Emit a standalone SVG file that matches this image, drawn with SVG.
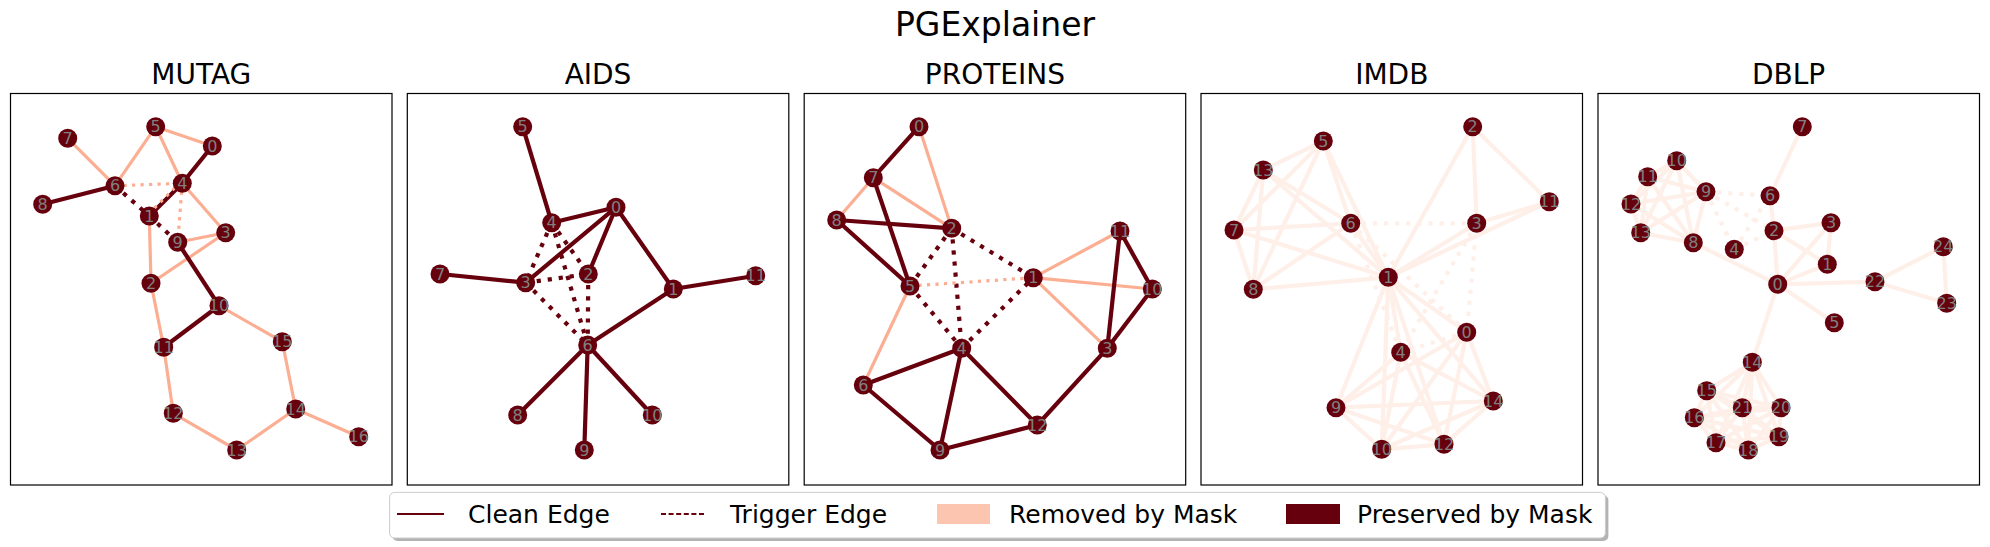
<svg xmlns="http://www.w3.org/2000/svg" width="1990" height="547" viewBox="0 0 1990 547">
<style>
text{font-family:"DejaVu Sans","Liberation Sans",sans-serif}
.ttl{font-size:33px;text-anchor:middle;fill:#000}
.sub{font-size:28px;text-anchor:middle;fill:#000}
.frame{fill:none;stroke:#000;stroke-width:1.2}
.nd circle{fill:#67000d}
.nd text{font-size:16px;fill:#808080;text-anchor:middle;dominant-baseline:central}
line{stroke-linecap:butt}
.k{stroke:#67000d;stroke-width:4.2}
.kd{stroke:#67000d;stroke-width:4.2;stroke-dasharray:4.2 6.9}
.l{stroke:#fcae93;stroke-width:3.2}
.ld{stroke:#fcae93;stroke-width:3.2;stroke-dasharray:3.2 5.3}
.f{stroke:#fef0e9;stroke-width:4.2}
.fd{stroke:#fef0e9;stroke-width:4.2;stroke-dasharray:4.2 6.9}
.lg{font-size:25px;fill:#000}
</style>
<rect width="1990" height="547" fill="#fff"/>
<text class="ttl" x="995" y="36">PGExplainer</text>
<g id="frames">
<text class="sub" x="201.3" y="84">MUTAG</text>
<text class="sub" x="598" y="84">AIDS</text>
<text class="sub" x="994.9" y="84">PROTEINS</text>
<text class="sub" x="1391.8" y="84">IMDB</text>
<text class="sub" x="1788.6" y="84">DBLP</text>
<rect class="frame" x="10.5" y="93.5" width="381.5" height="391.5"/>
<rect class="frame" x="407.3" y="93.5" width="381.5" height="391.5"/>
<rect class="frame" x="804.2" y="93.5" width="381.5" height="391.5"/>
<rect class="frame" x="1201" y="93.5" width="381.5" height="391.5"/>
<rect class="frame" x="1598" y="93.5" width="381.5" height="391.5"/>
</g>
<g id="connectors">
<!-- MUTAG -->
<line class="l" x1="155.7" y1="126.7" x2="212.3" y2="146"/>
<line class="l" x1="155.7" y1="126.7" x2="115" y2="185.7"/>
<line class="l" x1="155.7" y1="126.7" x2="182.3" y2="183.3"/>
<line class="l" x1="67.7" y1="138.3" x2="115" y2="185.7"/>
<line class="l" x1="182.3" y1="183.3" x2="225.7" y2="232.7"/>
<line class="l" x1="177.7" y1="242.3" x2="225.7" y2="232.7"/>
<line class="l" x1="225.7" y1="232.7" x2="151" y2="283.3"/>
<line class="l" x1="149.3" y1="216" x2="151" y2="283.3"/>
<line class="l" x1="219" y1="305.7" x2="282.3" y2="341.7"/>
<line class="l" x1="151" y1="283.3" x2="163.7" y2="347.3"/>
<line class="l" x1="163.7" y1="347.3" x2="173.3" y2="413.3"/>
<line class="l" x1="173.3" y1="413.3" x2="236.7" y2="450"/>
<line class="l" x1="236.7" y1="450" x2="295.7" y2="409"/>
<line class="l" x1="295.7" y1="409" x2="282.3" y2="341.7"/>
<line class="l" x1="295.7" y1="409" x2="358.7" y2="436.7"/>
<line class="ld" x1="115" y1="185.7" x2="182.3" y2="183.3"/>
<line class="ld" x1="182.3" y1="183.3" x2="177.7" y2="242.3"/>
<line class="k" x1="212.3" y1="146" x2="182.3" y2="183.3"/>
<line class="k" x1="42.7" y1="204.3" x2="115" y2="185.7"/>
<line class="k" x1="177.7" y1="242.3" x2="219" y2="305.7"/>
<line class="k" x1="219" y1="305.7" x2="163.7" y2="347.3"/>
<line class="k" x1="149.3" y1="216" x2="182.3" y2="183.3"/>
<line class="ld" x1="148.3" y1="214" x2="181.3" y2="181.3"/>
<line class="kd" x1="115" y1="185.7" x2="149.3" y2="216"/>
<line class="kd" x1="149.3" y1="216" x2="177.7" y2="242.3"/>
<!-- AIDS -->
<line class="k" x1="522.7" y1="126.7" x2="551.7" y2="222.7"/>
<line class="k" x1="551.7" y1="222.7" x2="616" y2="207.3"/>
<line class="k" x1="616" y1="207.3" x2="525.7" y2="282.7"/>
<line class="k" x1="616" y1="207.3" x2="588.3" y2="274"/>
<line class="k" x1="616" y1="207.3" x2="673.3" y2="289"/>
<line class="k" x1="673.3" y1="289" x2="755.7" y2="275.7"/>
<line class="k" x1="673.3" y1="289" x2="587.7" y2="345"/>
<line class="k" x1="440" y1="274" x2="525.7" y2="282.7"/>
<line class="k" x1="587.7" y1="345" x2="517.7" y2="415"/>
<line class="k" x1="587.7" y1="345" x2="584.3" y2="450"/>
<line class="k" x1="587.7" y1="345" x2="652.3" y2="415"/>
<line class="kd" x1="551.7" y1="222.7" x2="525.7" y2="282.7"/>
<line class="kd" x1="551.7" y1="222.7" x2="588.3" y2="274"/>
<line class="kd" x1="551.7" y1="222.7" x2="587.7" y2="345"/>
<line class="kd" x1="525.7" y1="282.7" x2="588.3" y2="274"/>
<line class="kd" x1="525.7" y1="282.7" x2="587.7" y2="345"/>
<line class="kd" x1="588.3" y1="274" x2="587.7" y2="345"/>
<!-- PROTEINS -->
<line class="l" x1="919" y1="126.7" x2="951.7" y2="228.3"/>
<line class="l" x1="873.3" y1="177.7" x2="951.7" y2="228.3"/>
<line class="l" x1="873.3" y1="177.7" x2="836.7" y2="220"/>
<line class="l" x1="910" y1="286" x2="863.3" y2="385"/>
<line class="l" x1="1033.3" y1="277.7" x2="1120" y2="231"/>
<line class="l" x1="1033.3" y1="277.7" x2="1152.3" y2="289"/>
<line class="l" x1="1033.3" y1="277.7" x2="1107.3" y2="348.3"/>
<line class="k" x1="919" y1="126.7" x2="873.3" y2="177.7"/>
<line class="k" x1="873.3" y1="177.7" x2="910" y2="286"/>
<line class="k" x1="836.7" y1="220" x2="951.7" y2="228.3"/>
<line class="k" x1="836.7" y1="220" x2="910" y2="286"/>
<line class="k" x1="961.7" y1="348.3" x2="863.3" y2="385"/>
<line class="k" x1="961.7" y1="348.3" x2="940" y2="450"/>
<line class="k" x1="961.7" y1="348.3" x2="1037.3" y2="425"/>
<line class="k" x1="863.3" y1="385" x2="940" y2="450"/>
<line class="k" x1="940" y1="450" x2="1037.3" y2="425"/>
<line class="k" x1="1037.3" y1="425" x2="1107.3" y2="348.3"/>
<line class="k" x1="1107.3" y1="348.3" x2="1120" y2="231"/>
<line class="k" x1="1107.3" y1="348.3" x2="1152.3" y2="289"/>
<line class="k" x1="1120" y1="231" x2="1152.3" y2="289"/>
<line class="kd" x1="951.7" y1="228.3" x2="910" y2="286"/>
<line class="kd" x1="951.7" y1="228.3" x2="961.7" y2="348.3"/>
<line class="kd" x1="951.7" y1="228.3" x2="1033.3" y2="277.7"/>
<line class="kd" x1="910" y1="286" x2="961.7" y2="348.3"/>
<line class="kd" x1="961.7" y1="348.3" x2="1033.3" y2="277.7"/>
<line class="ld" x1="910" y1="286" x2="1033.3" y2="277.7"/>
<!-- IMDB -->
<line class="f" x1="1323.3" y1="141" x2="1263.3" y2="170"/>
<line class="f" x1="1323.3" y1="141" x2="1234" y2="230"/>
<line class="f" x1="1323.3" y1="141" x2="1253.3" y2="289.3"/>
<line class="f" x1="1323.3" y1="141" x2="1350.7" y2="223.3"/>
<line class="f" x1="1323.3" y1="141" x2="1388.3" y2="277.3"/>
<line class="f" x1="1263.3" y1="170" x2="1234" y2="230"/>
<line class="f" x1="1263.3" y1="170" x2="1253.3" y2="289.3"/>
<line class="f" x1="1263.3" y1="170" x2="1350.7" y2="223.3"/>
<line class="f" x1="1263.3" y1="170" x2="1388.3" y2="277.3"/>
<line class="f" x1="1234" y1="230" x2="1253.3" y2="289.3"/>
<line class="f" x1="1234" y1="230" x2="1350.7" y2="223.3"/>
<line class="f" x1="1234" y1="230" x2="1388.3" y2="277.3"/>
<line class="f" x1="1253.3" y1="289.3" x2="1350.7" y2="223.3"/>
<line class="f" x1="1253.3" y1="289.3" x2="1388.3" y2="277.3"/>
<line class="f" x1="1350.7" y1="223.3" x2="1388.3" y2="277.3"/>
<line class="f" x1="1472.7" y1="126.7" x2="1476.7" y2="223.3"/>
<line class="f" x1="1472.7" y1="126.7" x2="1549.3" y2="201.7"/>
<line class="f" x1="1472.7" y1="126.7" x2="1388.3" y2="277.3"/>
<line class="f" x1="1476.7" y1="223.3" x2="1549.3" y2="201.7"/>
<line class="f" x1="1476.7" y1="223.3" x2="1388.3" y2="277.3"/>
<line class="f" x1="1549.3" y1="201.7" x2="1388.3" y2="277.3"/>
<line class="f" x1="1388.3" y1="277.3" x2="1466.7" y2="332.3"/>
<line class="f" x1="1388.3" y1="277.3" x2="1400.7" y2="352.3"/>
<line class="f" x1="1388.3" y1="277.3" x2="1336" y2="407.7"/>
<line class="f" x1="1388.3" y1="277.3" x2="1381.7" y2="449.3"/>
<line class="f" x1="1388.3" y1="277.3" x2="1444" y2="444.3"/>
<line class="f" x1="1388.3" y1="277.3" x2="1493.3" y2="401"/>
<line class="f" x1="1466.7" y1="332.3" x2="1336" y2="407.7"/>
<line class="f" x1="1466.7" y1="332.3" x2="1381.7" y2="449.3"/>
<line class="f" x1="1466.7" y1="332.3" x2="1444" y2="444.3"/>
<line class="f" x1="1466.7" y1="332.3" x2="1493.3" y2="401"/>
<line class="f" x1="1400.7" y1="352.3" x2="1336" y2="407.7"/>
<line class="f" x1="1400.7" y1="352.3" x2="1381.7" y2="449.3"/>
<line class="f" x1="1400.7" y1="352.3" x2="1444" y2="444.3"/>
<line class="f" x1="1400.7" y1="352.3" x2="1493.3" y2="401"/>
<line class="f" x1="1336" y1="407.7" x2="1381.7" y2="449.3"/>
<line class="f" x1="1336" y1="407.7" x2="1444" y2="444.3"/>
<line class="f" x1="1336" y1="407.7" x2="1493.3" y2="401"/>
<line class="f" x1="1381.7" y1="449.3" x2="1444" y2="444.3"/>
<line class="f" x1="1381.7" y1="449.3" x2="1493.3" y2="401"/>
<line class="f" x1="1444" y1="444.3" x2="1493.3" y2="401"/>
<line class="fd" x1="1350.7" y1="223.3" x2="1476.7" y2="223.3"/>
<line class="fd" x1="1350.7" y1="223.3" x2="1466.7" y2="332.3"/>
<line class="fd" x1="1350.7" y1="223.3" x2="1400.7" y2="352.3"/>
<line class="fd" x1="1476.7" y1="223.3" x2="1466.7" y2="332.3"/>
<line class="fd" x1="1476.7" y1="223.3" x2="1400.7" y2="352.3"/>
<line class="fd" x1="1466.7" y1="332.3" x2="1400.7" y2="352.3"/>
<!-- DBLP -->
<line class="f" x1="1802.3" y1="126.7" x2="1770" y2="195.7"/>
<line class="f" x1="1770" y1="195.7" x2="1774" y2="230.7"/>
<line class="f" x1="1774" y1="230.7" x2="1831" y2="222.7"/>
<line class="f" x1="1774" y1="230.7" x2="1827.3" y2="264.3"/>
<line class="f" x1="1774" y1="230.7" x2="1777.7" y2="284.3"/>
<line class="f" x1="1831" y1="222.7" x2="1827.3" y2="264.3"/>
<line class="f" x1="1831" y1="222.7" x2="1777.7" y2="284.3"/>
<line class="f" x1="1827.3" y1="264.3" x2="1777.7" y2="284.3"/>
<line class="f" x1="1777.7" y1="284.3" x2="1834.3" y2="322.7"/>
<line class="f" x1="1777.7" y1="284.3" x2="1875" y2="281.7"/>
<line class="f" x1="1777.7" y1="284.3" x2="1752.3" y2="362.3"/>
<line class="f" x1="1777.7" y1="284.3" x2="1693.3" y2="242.7"/>
<line class="f" x1="1875" y1="281.7" x2="1943.3" y2="246.7"/>
<line class="f" x1="1875" y1="281.7" x2="1946.7" y2="303.3"/>
<line class="f" x1="1943.3" y1="246.7" x2="1946.7" y2="303.3"/>
<line class="f" x1="1693.3" y1="242.7" x2="1706" y2="191.7"/>
<line class="f" x1="1693.3" y1="242.7" x2="1676.7" y2="160.7"/>
<line class="f" x1="1693.3" y1="242.7" x2="1647.7" y2="176.7"/>
<line class="f" x1="1693.3" y1="242.7" x2="1631" y2="204"/>
<line class="f" x1="1693.3" y1="242.7" x2="1640.7" y2="232.7"/>
<line class="f" x1="1706" y1="191.7" x2="1676.7" y2="160.7"/>
<line class="f" x1="1706" y1="191.7" x2="1647.7" y2="176.7"/>
<line class="f" x1="1706" y1="191.7" x2="1631" y2="204"/>
<line class="f" x1="1706" y1="191.7" x2="1640.7" y2="232.7"/>
<line class="f" x1="1676.7" y1="160.7" x2="1647.7" y2="176.7"/>
<line class="f" x1="1676.7" y1="160.7" x2="1631" y2="204"/>
<line class="f" x1="1676.7" y1="160.7" x2="1640.7" y2="232.7"/>
<line class="f" x1="1647.7" y1="176.7" x2="1631" y2="204"/>
<line class="f" x1="1647.7" y1="176.7" x2="1640.7" y2="232.7"/>
<line class="f" x1="1631" y1="204" x2="1640.7" y2="232.7"/>
<line class="f" x1="1752.3" y1="362.3" x2="1706.7" y2="390.7"/>
<line class="f" x1="1752.3" y1="362.3" x2="1694.3" y2="417.7"/>
<line class="f" x1="1752.3" y1="362.3" x2="1716" y2="442.7"/>
<line class="f" x1="1752.3" y1="362.3" x2="1748.3" y2="450"/>
<line class="f" x1="1752.3" y1="362.3" x2="1779" y2="436.7"/>
<line class="f" x1="1752.3" y1="362.3" x2="1781" y2="407.7"/>
<line class="f" x1="1752.3" y1="362.3" x2="1742.3" y2="407.7"/>
<line class="f" x1="1706.7" y1="390.7" x2="1694.3" y2="417.7"/>
<line class="f" x1="1706.7" y1="390.7" x2="1716" y2="442.7"/>
<line class="f" x1="1706.7" y1="390.7" x2="1748.3" y2="450"/>
<line class="f" x1="1706.7" y1="390.7" x2="1779" y2="436.7"/>
<line class="f" x1="1706.7" y1="390.7" x2="1781" y2="407.7"/>
<line class="f" x1="1706.7" y1="390.7" x2="1742.3" y2="407.7"/>
<line class="f" x1="1694.3" y1="417.7" x2="1716" y2="442.7"/>
<line class="f" x1="1694.3" y1="417.7" x2="1748.3" y2="450"/>
<line class="f" x1="1694.3" y1="417.7" x2="1779" y2="436.7"/>
<line class="f" x1="1694.3" y1="417.7" x2="1781" y2="407.7"/>
<line class="f" x1="1694.3" y1="417.7" x2="1742.3" y2="407.7"/>
<line class="f" x1="1716" y1="442.7" x2="1748.3" y2="450"/>
<line class="f" x1="1716" y1="442.7" x2="1779" y2="436.7"/>
<line class="f" x1="1716" y1="442.7" x2="1781" y2="407.7"/>
<line class="f" x1="1716" y1="442.7" x2="1742.3" y2="407.7"/>
<line class="f" x1="1748.3" y1="450" x2="1779" y2="436.7"/>
<line class="f" x1="1748.3" y1="450" x2="1781" y2="407.7"/>
<line class="f" x1="1748.3" y1="450" x2="1742.3" y2="407.7"/>
<line class="f" x1="1779" y1="436.7" x2="1781" y2="407.7"/>
<line class="f" x1="1779" y1="436.7" x2="1742.3" y2="407.7"/>
<line class="f" x1="1781" y1="407.7" x2="1742.3" y2="407.7"/>
<line class="fd" x1="1706" y1="191.7" x2="1770" y2="195.7"/>
<line class="fd" x1="1706" y1="191.7" x2="1774" y2="230.7"/>
<line class="fd" x1="1706" y1="191.7" x2="1734.3" y2="249.3"/>
<line class="fd" x1="1734.3" y1="249.3" x2="1770" y2="195.7"/>
<line class="fd" x1="1734.3" y1="249.3" x2="1774" y2="230.7"/>
</g>
<g id="mutag-nodes">
<g class="nd" id="mutag-0"><circle cx="212.3" cy="146" r="9.5"/><text x="212.3" y="146">0</text></g>
<g class="nd" id="mutag-1"><circle cx="149.3" cy="216" r="9.5"/><text x="149.3" y="216">1</text></g>
<g class="nd" id="mutag-2"><circle cx="151" cy="283.3" r="9.5"/><text x="151" y="283.3">2</text></g>
<g class="nd" id="mutag-3"><circle cx="225.7" cy="232.7" r="9.5"/><text x="225.7" y="232.7">3</text></g>
<g class="nd" id="mutag-4"><circle cx="182.3" cy="183.3" r="9.5"/><text x="182.3" y="183.3">4</text></g>
<g class="nd" id="mutag-5"><circle cx="155.7" cy="126.7" r="9.5"/><text x="155.7" y="126.7">5</text></g>
<g class="nd" id="mutag-6"><circle cx="115" cy="185.7" r="9.5"/><text x="115" y="185.7">6</text></g>
<g class="nd" id="mutag-7"><circle cx="67.7" cy="138.3" r="9.5"/><text x="67.7" y="138.3">7</text></g>
<g class="nd" id="mutag-8"><circle cx="42.7" cy="204.3" r="9.5"/><text x="42.7" y="204.3">8</text></g>
<g class="nd" id="mutag-9"><circle cx="177.7" cy="242.3" r="9.5"/><text x="177.7" y="242.3">9</text></g>
<g class="nd" id="mutag-10"><circle cx="219" cy="305.7" r="9.5"/><text x="219" y="305.7">10</text></g>
<g class="nd" id="mutag-11"><circle cx="163.7" cy="347.3" r="9.5"/><text x="163.7" y="347.3">11</text></g>
<g class="nd" id="mutag-12"><circle cx="173.3" cy="413.3" r="9.5"/><text x="173.3" y="413.3">12</text></g>
<g class="nd" id="mutag-13"><circle cx="236.7" cy="450" r="9.5"/><text x="236.7" y="450">13</text></g>
<g class="nd" id="mutag-14"><circle cx="295.7" cy="409" r="9.5"/><text x="295.7" y="409">14</text></g>
<g class="nd" id="mutag-15"><circle cx="282.3" cy="341.7" r="9.5"/><text x="282.3" y="341.7">15</text></g>
<g class="nd" id="mutag-16"><circle cx="358.7" cy="436.7" r="9.5"/><text x="358.7" y="436.7">16</text></g>
</g>
<g id="aids-nodes">
<g class="nd" id="aids-0"><circle cx="616" cy="207.3" r="9.5"/><text x="616" y="207.3">0</text></g>
<g class="nd" id="aids-1"><circle cx="673.3" cy="289" r="9.5"/><text x="673.3" y="289">1</text></g>
<g class="nd" id="aids-2"><circle cx="588.3" cy="274" r="9.5"/><text x="588.3" y="274">2</text></g>
<g class="nd" id="aids-3"><circle cx="525.7" cy="282.7" r="9.5"/><text x="525.7" y="282.7">3</text></g>
<g class="nd" id="aids-4"><circle cx="551.7" cy="222.7" r="9.5"/><text x="551.7" y="222.7">4</text></g>
<g class="nd" id="aids-5"><circle cx="522.7" cy="126.7" r="9.5"/><text x="522.7" y="126.7">5</text></g>
<g class="nd" id="aids-6"><circle cx="587.7" cy="345" r="9.5"/><text x="587.7" y="345">6</text></g>
<g class="nd" id="aids-7"><circle cx="440" cy="274" r="9.5"/><text x="440" y="274">7</text></g>
<g class="nd" id="aids-8"><circle cx="517.7" cy="415" r="9.5"/><text x="517.7" y="415">8</text></g>
<g class="nd" id="aids-9"><circle cx="584.3" cy="450" r="9.5"/><text x="584.3" y="450">9</text></g>
<g class="nd" id="aids-10"><circle cx="652.3" cy="415" r="9.5"/><text x="652.3" y="415">10</text></g>
<g class="nd" id="aids-11"><circle cx="755.7" cy="275.7" r="9.5"/><text x="755.7" y="275.7">11</text></g>
</g>
<g id="proteins-nodes">
<g class="nd" id="proteins-0"><circle cx="919" cy="126.7" r="9.5"/><text x="919" y="126.7">0</text></g>
<g class="nd" id="proteins-1"><circle cx="1033.3" cy="277.7" r="9.5"/><text x="1033.3" y="277.7">1</text></g>
<g class="nd" id="proteins-2"><circle cx="951.7" cy="228.3" r="9.5"/><text x="951.7" y="228.3">2</text></g>
<g class="nd" id="proteins-3"><circle cx="1107.3" cy="348.3" r="9.5"/><text x="1107.3" y="348.3">3</text></g>
<g class="nd" id="proteins-4"><circle cx="961.7" cy="348.3" r="9.5"/><text x="961.7" y="348.3">4</text></g>
<g class="nd" id="proteins-5"><circle cx="910" cy="286" r="9.5"/><text x="910" y="286">5</text></g>
<g class="nd" id="proteins-6"><circle cx="863.3" cy="385" r="9.5"/><text x="863.3" y="385">6</text></g>
<g class="nd" id="proteins-7"><circle cx="873.3" cy="177.7" r="9.5"/><text x="873.3" y="177.7">7</text></g>
<g class="nd" id="proteins-8"><circle cx="836.7" cy="220" r="9.5"/><text x="836.7" y="220">8</text></g>
<g class="nd" id="proteins-9"><circle cx="940" cy="450" r="9.5"/><text x="940" y="450">9</text></g>
<g class="nd" id="proteins-10"><circle cx="1152.3" cy="289" r="9.5"/><text x="1152.3" y="289">10</text></g>
<g class="nd" id="proteins-11"><circle cx="1120" cy="231" r="9.5"/><text x="1120" y="231">11</text></g>
<g class="nd" id="proteins-12"><circle cx="1037.3" cy="425" r="9.5"/><text x="1037.3" y="425">12</text></g>
</g>
<g id="imdb-nodes">
<g class="nd" id="imdb-0"><circle cx="1466.7" cy="332.3" r="9.5"/><text x="1466.7" y="332.3">0</text></g>
<g class="nd" id="imdb-1"><circle cx="1388.3" cy="277.3" r="9.5"/><text x="1388.3" y="277.3">1</text></g>
<g class="nd" id="imdb-2"><circle cx="1472.7" cy="126.7" r="9.5"/><text x="1472.7" y="126.7">2</text></g>
<g class="nd" id="imdb-3"><circle cx="1476.7" cy="223.3" r="9.5"/><text x="1476.7" y="223.3">3</text></g>
<g class="nd" id="imdb-4"><circle cx="1400.7" cy="352.3" r="9.5"/><text x="1400.7" y="352.3">4</text></g>
<g class="nd" id="imdb-5"><circle cx="1323.3" cy="141" r="9.5"/><text x="1323.3" y="141">5</text></g>
<g class="nd" id="imdb-6"><circle cx="1350.7" cy="223.3" r="9.5"/><text x="1350.7" y="223.3">6</text></g>
<g class="nd" id="imdb-7"><circle cx="1234" cy="230" r="9.5"/><text x="1234" y="230">7</text></g>
<g class="nd" id="imdb-8"><circle cx="1253.3" cy="289.3" r="9.5"/><text x="1253.3" y="289.3">8</text></g>
<g class="nd" id="imdb-9"><circle cx="1336" cy="407.7" r="9.5"/><text x="1336" y="407.7">9</text></g>
<g class="nd" id="imdb-10"><circle cx="1381.7" cy="449.3" r="9.5"/><text x="1381.7" y="449.3">10</text></g>
<g class="nd" id="imdb-11"><circle cx="1549.3" cy="201.7" r="9.5"/><text x="1549.3" y="201.7">11</text></g>
<g class="nd" id="imdb-12"><circle cx="1444" cy="444.3" r="9.5"/><text x="1444" y="444.3">12</text></g>
<g class="nd" id="imdb-13"><circle cx="1263.3" cy="170" r="9.5"/><text x="1263.3" y="170">13</text></g>
<g class="nd" id="imdb-14"><circle cx="1493.3" cy="401" r="9.5"/><text x="1493.3" y="401">14</text></g>
</g>
<g id="dblp-nodes">
<g class="nd" id="dblp-0"><circle cx="1777.7" cy="284.3" r="9.5"/><text x="1777.7" y="284.3">0</text></g>
<g class="nd" id="dblp-1"><circle cx="1827.3" cy="264.3" r="9.5"/><text x="1827.3" y="264.3">1</text></g>
<g class="nd" id="dblp-2"><circle cx="1774" cy="230.7" r="9.5"/><text x="1774" y="230.7">2</text></g>
<g class="nd" id="dblp-3"><circle cx="1831" cy="222.7" r="9.5"/><text x="1831" y="222.7">3</text></g>
<g class="nd" id="dblp-4"><circle cx="1734.3" cy="249.3" r="9.5"/><text x="1734.3" y="249.3">4</text></g>
<g class="nd" id="dblp-5"><circle cx="1834.3" cy="322.7" r="9.5"/><text x="1834.3" y="322.7">5</text></g>
<g class="nd" id="dblp-6"><circle cx="1770" cy="195.7" r="9.5"/><text x="1770" y="195.7">6</text></g>
<g class="nd" id="dblp-7"><circle cx="1802.3" cy="126.7" r="9.5"/><text x="1802.3" y="126.7">7</text></g>
<g class="nd" id="dblp-8"><circle cx="1693.3" cy="242.7" r="9.5"/><text x="1693.3" y="242.7">8</text></g>
<g class="nd" id="dblp-9"><circle cx="1706" cy="191.7" r="9.5"/><text x="1706" y="191.7">9</text></g>
<g class="nd" id="dblp-10"><circle cx="1676.7" cy="160.7" r="9.5"/><text x="1676.7" y="160.7">10</text></g>
<g class="nd" id="dblp-11"><circle cx="1647.7" cy="176.7" r="9.5"/><text x="1647.7" y="176.7">11</text></g>
<g class="nd" id="dblp-12"><circle cx="1631" cy="204" r="9.5"/><text x="1631" y="204">12</text></g>
<g class="nd" id="dblp-13"><circle cx="1640.7" cy="232.7" r="9.5"/><text x="1640.7" y="232.7">13</text></g>
<g class="nd" id="dblp-14"><circle cx="1752.3" cy="362.3" r="9.5"/><text x="1752.3" y="362.3">14</text></g>
<g class="nd" id="dblp-15"><circle cx="1706.7" cy="390.7" r="9.5"/><text x="1706.7" y="390.7">15</text></g>
<g class="nd" id="dblp-16"><circle cx="1694.3" cy="417.7" r="9.5"/><text x="1694.3" y="417.7">16</text></g>
<g class="nd" id="dblp-17"><circle cx="1716" cy="442.7" r="9.5"/><text x="1716" y="442.7">17</text></g>
<g class="nd" id="dblp-18"><circle cx="1748.3" cy="450" r="9.5"/><text x="1748.3" y="450">18</text></g>
<g class="nd" id="dblp-19"><circle cx="1779" cy="436.7" r="9.5"/><text x="1779" y="436.7">19</text></g>
<g class="nd" id="dblp-20"><circle cx="1781" cy="407.7" r="9.5"/><text x="1781" y="407.7">20</text></g>
<g class="nd" id="dblp-21"><circle cx="1742.3" cy="407.7" r="9.5"/><text x="1742.3" y="407.7">21</text></g>
<g class="nd" id="dblp-22"><circle cx="1875" cy="281.7" r="9.5"/><text x="1875" y="281.7">22</text></g>
<g class="nd" id="dblp-23"><circle cx="1946.7" cy="303.3" r="9.5"/><text x="1946.7" y="303.3">23</text></g>
<g class="nd" id="dblp-24"><circle cx="1943.3" cy="246.7" r="9.5"/><text x="1943.3" y="246.7">24</text></g>
</g>
<g id="legend">
<rect x="392.6" y="495.4" width="1215.8" height="45.6" rx="5" fill="#b3b3b3"/>
<rect x="389.6" y="492.4" width="1215.8" height="45.6" rx="5" fill="#fff" stroke="#cccccc" stroke-width="1"/>
<line x1="397" y1="514" x2="444" y2="514" stroke="#67000d" stroke-width="2"/>
<text class="lg" x="468" y="522.5">Clean Edge</text>
<line x1="661" y1="514" x2="706" y2="514" stroke="#67000d" stroke-width="2" stroke-dasharray="5 2.6"/>
<text class="lg" x="730" y="522.5">Trigger Edge</text>
<rect x="937" y="504" width="53" height="20" fill="#fcc5af"/>
<text class="lg" x="1009" y="522.5">Removed by Mask</text>
<rect x="1286" y="504" width="54" height="20" fill="#67000d"/>
<text class="lg" x="1357" y="522.5">Preserved by Mask</text>
</g>
</svg>
